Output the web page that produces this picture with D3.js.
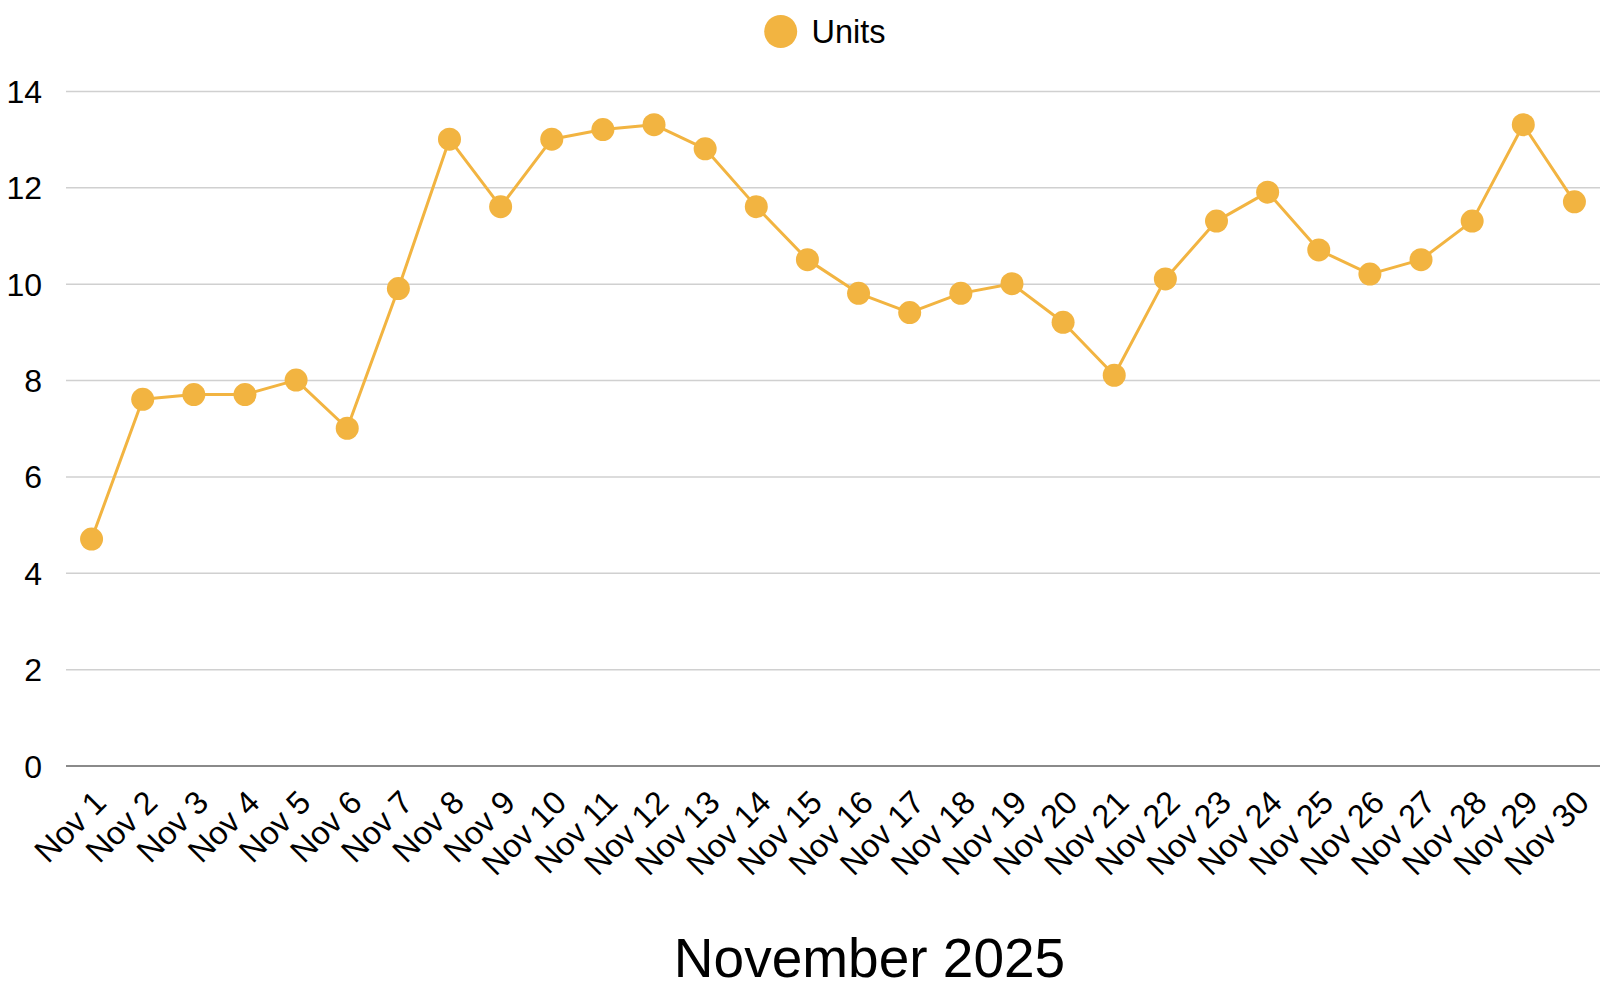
<!DOCTYPE html>
<html>
<head>
<meta charset="utf-8">
<script src="https://cdn.jsdelivr.net/npm/d3@7"></script>
<style>
  html, body { margin: 0; padding: 0; background: #fff; }
  svg { display: block; font-family: "Liberation Sans", Arial, Helvetica, sans-serif; }
</style>
</head>
<body>
<svg id="chart" width="1614" height="992"></svg>
<script>
const categories = ["Nov 1","Nov 2","Nov 3","Nov 4","Nov 5","Nov 6","Nov 7","Nov 8","Nov 9","Nov 10",
  "Nov 11","Nov 12","Nov 13","Nov 14","Nov 15","Nov 16","Nov 17","Nov 18","Nov 19","Nov 20",
  "Nov 21","Nov 22","Nov 23","Nov 24","Nov 25","Nov 26","Nov 27","Nov 28","Nov 29","Nov 30"];
const units = [4.7, 7.6, 7.7, 7.7, 8.0, 7.0, 9.9, 13.0, 11.6, 13.0,
  13.2, 13.3, 12.8, 11.6, 10.5, 9.8, 9.4, 9.8, 10.0, 9.2,
  8.1, 10.1, 11.3, 11.9, 10.7, 10.2, 10.5, 11.3, 13.3, 11.7];
const yTicks = [0, 2, 4, 6, 8, 10, 12, 14];
const seriesName = "Units";
const xTitle = "November 2025";

(function () {
const color = "#F2B441";
const svg = d3.select("#chart");
const pLeft = 66, pRight = 1600, pTop = 91, pBottom = 765.5;

const x = d3.scalePoint().domain(categories).range([pLeft, pRight]).padding(0.5);
const y = d3.scaleLinear().domain([0, 14]).range([pBottom, pTop]);

// gridlines + y labels
const yAxis = d3.axisLeft(y).tickValues(yTicks).tickSize(-(pRight - pLeft)).tickPadding(24).tickFormat(d3.format("d"));
const gy = svg.append("g").attr("transform", `translate(${pLeft},0)`).call(yAxis);
gy.select(".domain").remove();
gy.selectAll(".tick line").attr("stroke", d => d === 0 ? "#8a8a8a" : "#d0d0d0").attr("stroke-width", d => d === 0 ? 2 : 1.5);
gy.selectAll(".tick text").attr("font-size", 32).attr("fill", "#000").attr("x", -24).attr("dy", "0.36em");

// x axis labels
const xAxis = d3.axisBottom(x).tickSize(0).tickPadding(0);
const gx = svg.append("g").attr("transform", `translate(0,${pBottom})`).call(xAxis);
gx.select(".domain").remove();
gx.selectAll(".tick text")
  .attr("font-size", 32.5).attr("fill", "#000")
  .attr("text-anchor", "end")
  .attr("y", 0).attr("dy", 0)
  .attr("transform", "translate(16,39) rotate(-45)");

// line
const line = d3.line().x((d, i) => x(categories[i])).y(d => y(d));
svg.append("path").datum(units)
  .attr("fill", "none").attr("stroke", color).attr("stroke-width", 3)
  .attr("stroke-linejoin", "round").attr("d", line);

svg.append("g").selectAll("circle").data(units).join("circle")
  .attr("cx", (d, i) => x(categories[i])).attr("cy", d => y(d))
  .attr("r", 11.5).attr("fill", color);

// legend
const lg = svg.append("g");
lg.append("circle").attr("cx", 780.7).attr("cy", 31.5).attr("r", 16.5).attr("fill", color);
lg.append("text").attr("x", 811.5).attr("y", 43).attr("font-size", 32.5).attr("fill", "#000").text(seriesName);

// x title
svg.append("text").attr("x", 869.5).attr("y", 977).attr("text-anchor", "middle")
  .attr("font-size", 55).attr("fill", "#000").text(xTitle);
})();
</script>
</body>
</html>
